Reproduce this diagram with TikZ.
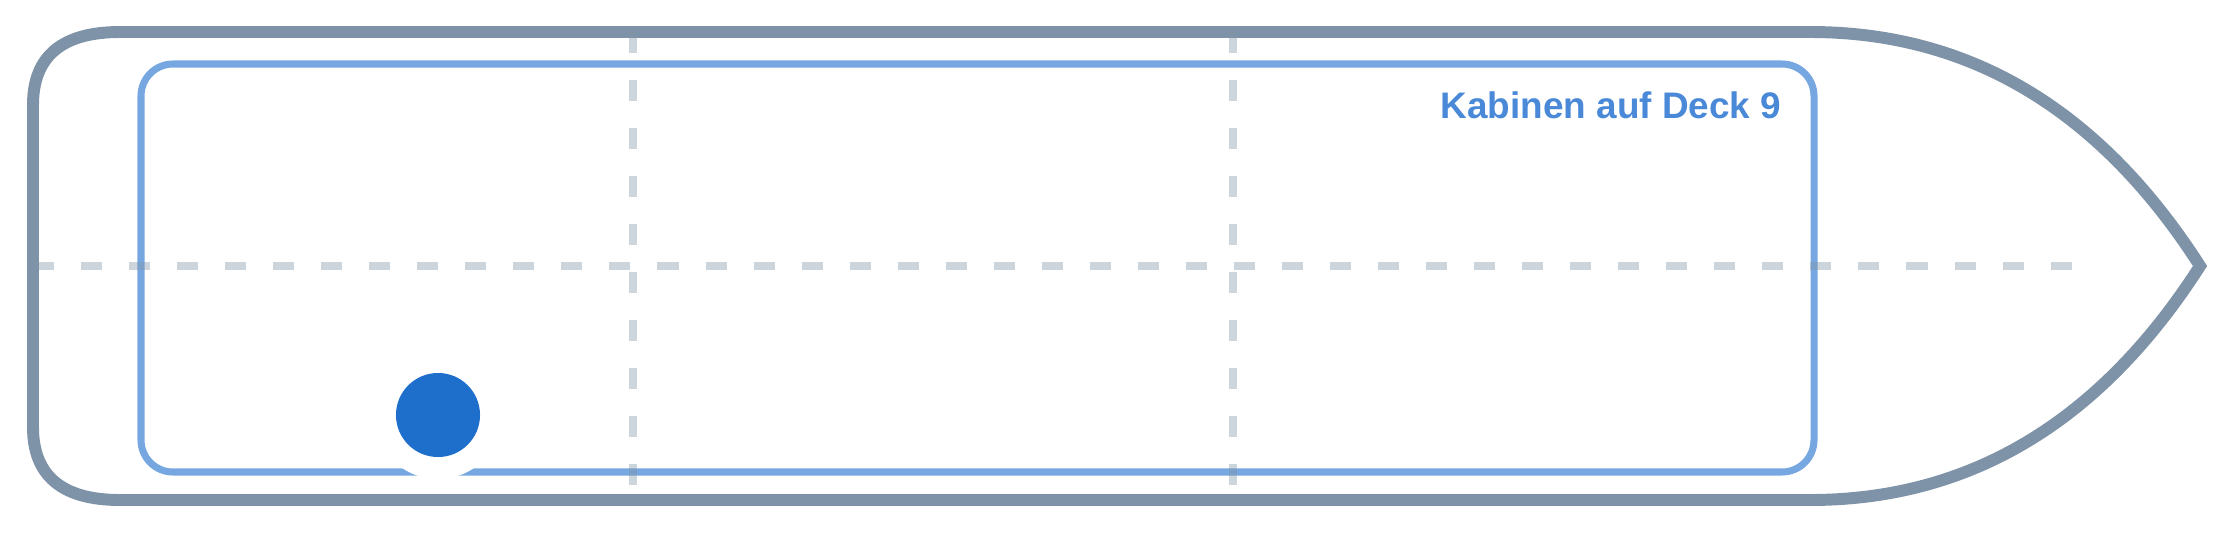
\documentclass[tikz,border=0pt]{standalone}
\usepackage{fontspec}
\setmainfont{Liberation Sans}
\usetikzlibrary{positioning}
\definecolor{hullgray}{RGB}{127,147,168}
\definecolor{deckblue}{RGB}{119,167,224}
\definecolor{labelblue}{RGB}{74,137,216}
\definecolor{cabinblue}{RGB}{30,111,204}

\begin{document}
\begin{tikzpicture}[x=0.01cm,y=-0.01cm]
\tikzstyle{hull}=[draw=hullgray, line width=3.4pt]
\tikzstyle{deck}=[draw=deckblue, line width=2pt, rounded corners=0.32cm]
\tikzstyle{grid}=[draw=hullgray, opacity=0.4, line width=2.27pt, dash pattern=on 5.98pt off 7.68pt]
\useasboundingbox (0,0) rectangle (2240,533);

\draw [hull] (120,32) -- (1810,32) .. controls (1970,32) and (2100,110) .. (2200,266)
  .. controls (2100,422) and (1970,500) .. (1810,500) -- (120,500)
  .. controls (62,500) and (33,475.7) .. (33,427) -- (33,105)
  .. controls (33,56.3) and (62,32) .. (120,32) -- cycle;
\draw [deck] (141,64) rectangle (1814,472);

\draw [grid] (33,266) -- (2080,266);
\draw [grid] (633,32) -- (633,500);
\draw [grid] (1233,32) -- (1233,500);

\fill [white] (438,415) circle [radius=0.64cm];
\node (cabin) [circle, fill=cabinblue, minimum size=0.84cm, inner sep=0pt] at (438,415) {};
\node (title) [anchor=base east, text=labelblue, inner sep=0pt, font=\bfseries\fontsize{10.5}{12}\selectfont] at (1782,118) {Kabinen auf Deck 9};

\end{tikzpicture}
\end{document}
